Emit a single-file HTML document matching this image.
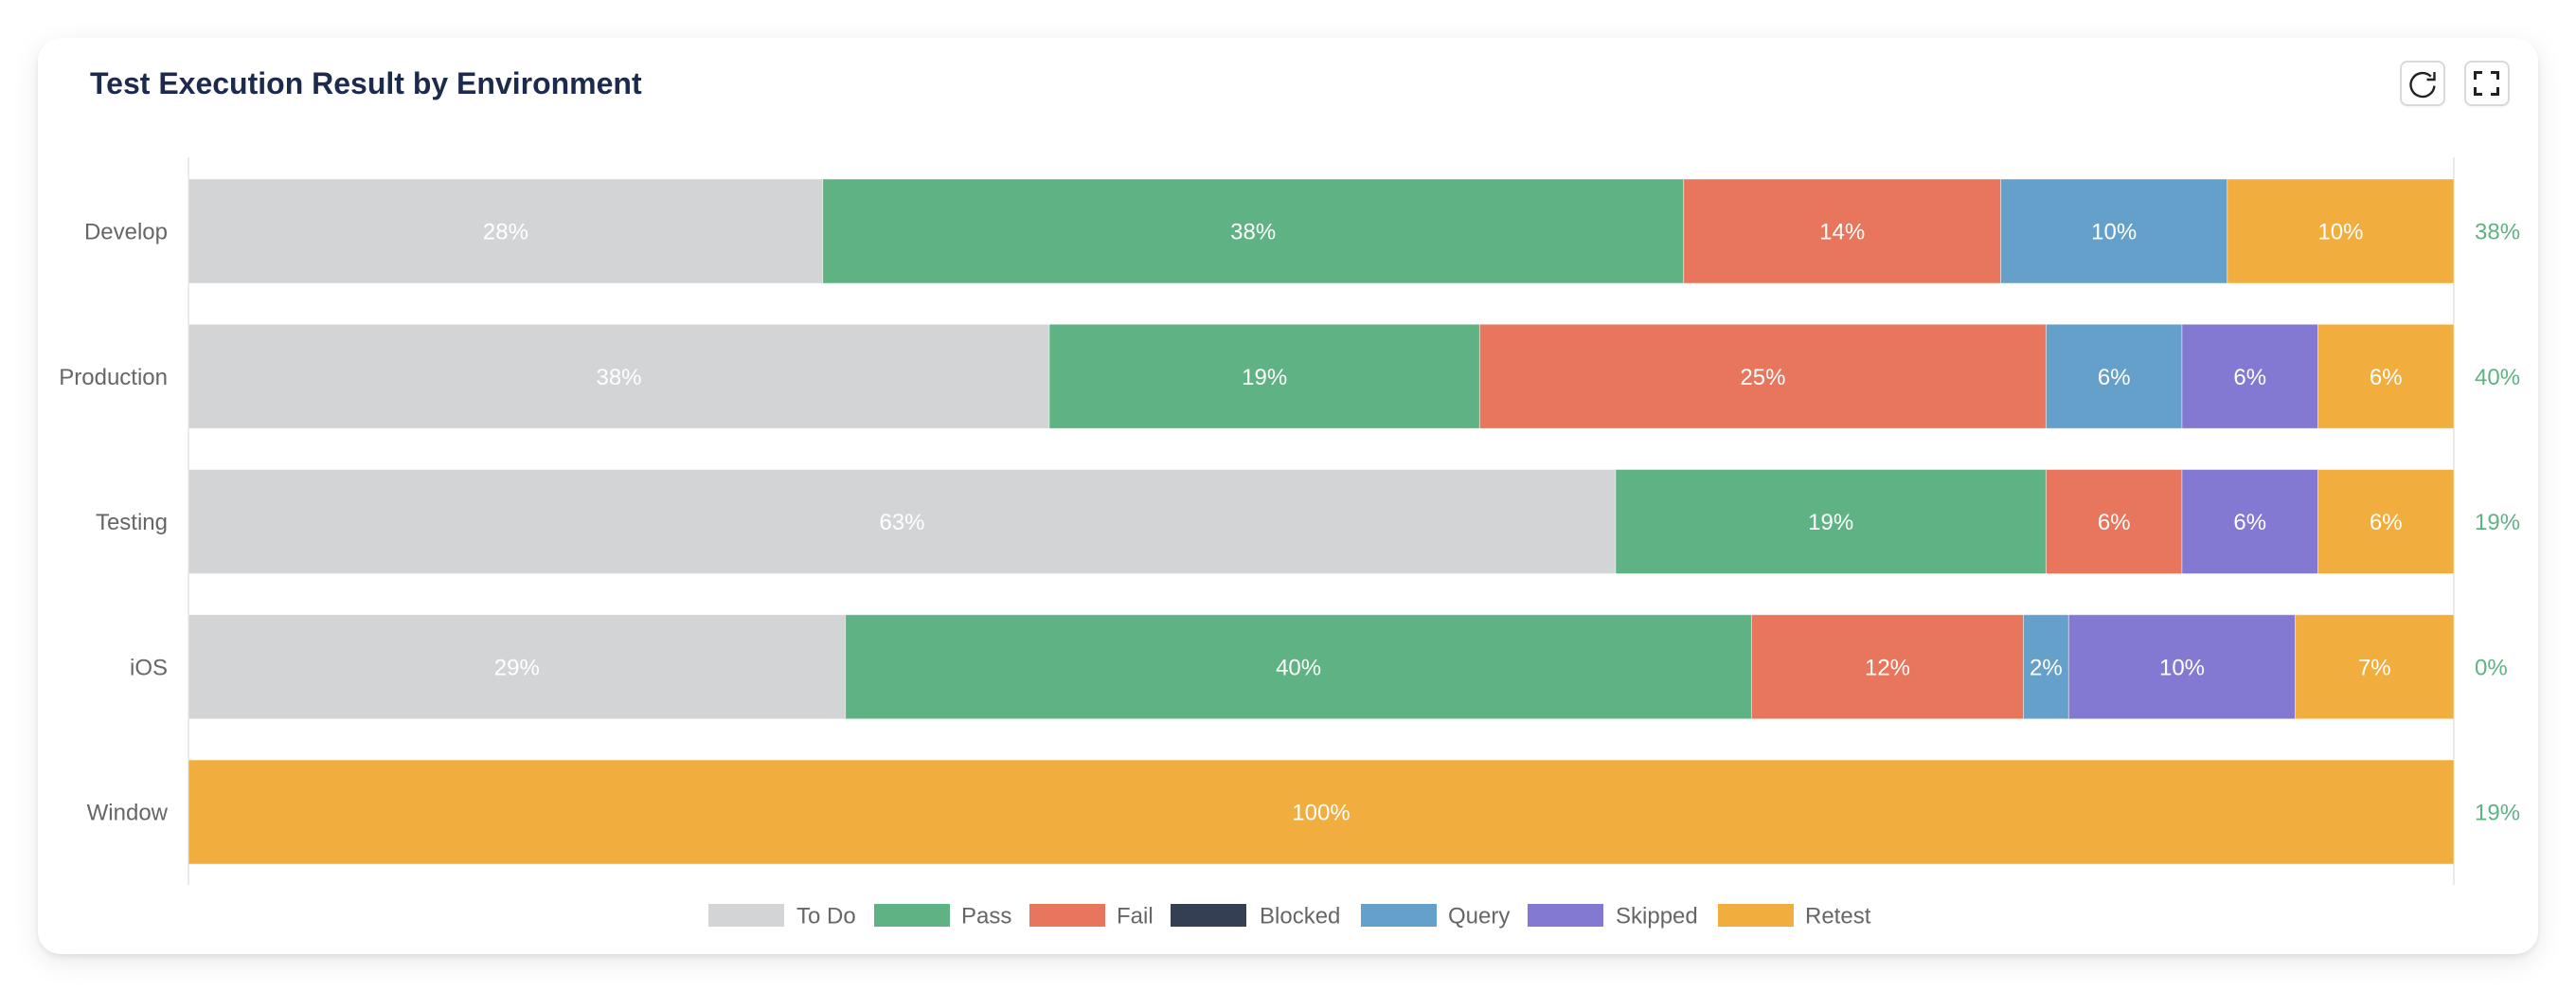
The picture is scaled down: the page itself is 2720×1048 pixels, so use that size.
<!DOCTYPE html>
<html>
<head>
<meta charset="utf-8">
<style>
  html,body{margin:0;padding:0;background:#ffffff;}
  body{width:2720px;height:1048px;position:relative;overflow:hidden;font-family:"Liberation Sans",Arial,sans-serif;}
  .card{position:absolute;left:40px;top:40px;width:2640px;height:967px;background:#fff;border-radius:24px;
        box-shadow:0 3px 6px rgba(0,0,0,0.07),0 8px 30px rgba(0,0,0,0.09);}
  svg{position:absolute;left:0;top:0;}
</style>
</head>
<body>
<div class="card"></div>
<svg width="2720" height="1048" viewBox="0 0 2720 1048" xmlns="http://www.w3.org/2000/svg" font-family="'Liberation Sans', Arial, sans-serif">
  <!-- Title -->
  <text x="95" y="99" font-size="32" font-weight="bold" fill="#1d2a4d">Test Execution Result by Environment</text>

  <!-- Buttons -->
  <rect x="2534" y="66" width="48" height="48" rx="8" fill="#f3f3f3" opacity="0.6"/>
  <rect x="2535" y="65" width="46" height="46" rx="7" fill="#fff" stroke="#d9d9d9" stroke-width="2"/>
  <path d="M2570.45 90.6 A12.5 12.5 0 1 1 2566.8 80.66" fill="none" stroke="#222" stroke-width="2.4"/>
  <path d="M2570.5 76 L2570.5 84 L2562.5 84" fill="none" stroke="#222" stroke-width="2.4"/>

  <rect x="2602" y="66" width="48" height="48" rx="8" fill="#f3f3f3" opacity="0.6"/>
  <rect x="2603" y="65" width="46" height="46" rx="7" fill="#fff" stroke="#d9d9d9" stroke-width="2"/>
  <g fill="none" stroke="#222" stroke-width="3">
    <path d="M2613.5 84 L2613.5 76.5 L2621 76.5"/>
    <path d="M2630 76.5 L2637.5 76.5 L2637.5 84"/>
    <path d="M2613.5 92 L2613.5 99.5 L2621 99.5"/>
    <path d="M2630 99.5 L2637.5 99.5 L2637.5 92"/>
  </g>

  <!-- Axis lines -->
  <line x1="199" y1="166" x2="199" y2="934" stroke="#e3e3e3" stroke-width="1.5"/>
  <line x1="2591" y1="166" x2="2591" y2="934" stroke="#e3e3e3" stroke-width="1.5"/>

  <!-- Y labels -->
  <g font-size="24" fill="#666" text-anchor="end">
    <text x="177" y="252.6">Develop</text>
    <text x="177" y="405.8">Production</text>
    <text x="177" y="559.1">Testing</text>
    <text x="177" y="712.3">iOS</text>
    <text x="177" y="865.6">Window</text>
  </g>

  <!-- Bars -->
  <g stroke="rgba(255,255,255,0.45)" stroke-width="1">
    <!-- Develop -->
    <rect x="199" y="189" width="669.76" height="110" fill="#d3d4d6"/>
    <rect x="868.76" y="189" width="908.96" height="110" fill="#5eb283"/>
    <rect x="1777.72" y="189" width="334.88" height="110" fill="#e8765c"/>
    <rect x="2112.6" y="189" width="239.2" height="110" fill="#65a0ca"/>
    <rect x="2351.8" y="189" width="239.2" height="110" fill="#f2ad3f"/>
    <!-- Production -->
    <rect x="199" y="342.25" width="908.96" height="110" fill="#d3d4d6"/>
    <rect x="1107.96" y="342.25" width="454.48" height="110" fill="#5eb283"/>
    <rect x="1562.44" y="342.25" width="598" height="110" fill="#e8765c"/>
    <rect x="2160.44" y="342.25" width="143.52" height="110" fill="#65a0ca"/>
    <rect x="2303.96" y="342.25" width="143.52" height="110" fill="#8378d2"/>
    <rect x="2447.48" y="342.25" width="143.52" height="110" fill="#f2ad3f"/>
    <!-- Testing -->
    <rect x="199" y="495.5" width="1506.96" height="110" fill="#d3d4d6"/>
    <rect x="1705.96" y="495.5" width="454.48" height="110" fill="#5eb283"/>
    <rect x="2160.44" y="495.5" width="143.52" height="110" fill="#e8765c"/>
    <rect x="2303.96" y="495.5" width="143.52" height="110" fill="#8378d2"/>
    <rect x="2447.48" y="495.5" width="143.52" height="110" fill="#f2ad3f"/>
    <!-- iOS -->
    <rect x="199" y="648.75" width="693.68" height="110" fill="#d3d4d6"/>
    <rect x="892.68" y="648.75" width="956.8" height="110" fill="#5eb283"/>
    <rect x="1849.48" y="648.75" width="287.04" height="110" fill="#e8765c"/>
    <rect x="2136.52" y="648.75" width="47.84" height="110" fill="#65a0ca"/>
    <rect x="2184.36" y="648.75" width="239.2" height="110" fill="#8378d2"/>
    <rect x="2423.56" y="648.75" width="167.44" height="110" fill="#f2ad3f"/>
    <!-- Window -->
    <rect x="199" y="802" width="2392" height="110" fill="#f2ad3f"/>
  </g>

  <!-- Bar labels -->
  <g font-size="24" fill="#ffffff" text-anchor="middle">
    <text x="533.9" y="252.6">28%</text>
    <text x="1323.2" y="252.6">38%</text>
    <text x="1945.2" y="252.6">14%</text>
    <text x="2232.2" y="252.6">10%</text>
    <text x="2471.4" y="252.6">10%</text>

    <text x="653.5" y="405.8">38%</text>
    <text x="1335.2" y="405.8">19%</text>
    <text x="1861.4" y="405.8">25%</text>
    <text x="2232.2" y="405.8">6%</text>
    <text x="2375.7" y="405.8">6%</text>
    <text x="2519.2" y="405.8">6%</text>

    <text x="952.5" y="559.1">63%</text>
    <text x="1933.2" y="559.1">19%</text>
    <text x="2232.2" y="559.1">6%</text>
    <text x="2375.7" y="559.1">6%</text>
    <text x="2519.2" y="559.1">6%</text>

    <text x="545.8" y="712.3">29%</text>
    <text x="1371.1" y="712.3">40%</text>
    <text x="1993" y="712.3">12%</text>
    <text x="2160.4" y="712.3">2%</text>
    <text x="2304" y="712.3">10%</text>
    <text x="2507.3" y="712.3">7%</text>

    <text x="1395" y="865.6">100%</text>
  </g>

  <!-- Right labels -->
  <g font-size="24" fill="#5eb283">
    <text x="2613" y="252.6">38%</text>
    <text x="2613" y="405.8">40%</text>
    <text x="2613" y="559.1">19%</text>
    <text x="2613" y="712.3">0%</text>
    <text x="2613" y="865.6">19%</text>
  </g>

  <!-- Legend -->
  <g>
    <rect x="748" y="954" width="80" height="24" fill="#d3d4d6"/>
    <rect x="923" y="954" width="80" height="24" fill="#5eb283"/>
    <rect x="1087" y="954" width="80" height="24" fill="#e8765c"/>
    <rect x="1236" y="954" width="80" height="24" fill="#343f53"/>
    <rect x="1437" y="954" width="80" height="24" fill="#65a0ca"/>
    <rect x="1613" y="954" width="80" height="24" fill="#8378d2"/>
    <rect x="1814" y="954" width="80" height="24" fill="#f2ad3f"/>
  </g>
  <g font-size="24" fill="#666">
    <text x="841" y="974.5">To Do</text>
    <text x="1015" y="974.5">Pass</text>
    <text x="1179" y="974.5">Fail</text>
    <text x="1330" y="974.5">Blocked</text>
    <text x="1529" y="974.5">Query</text>
    <text x="1706" y="974.5">Skipped</text>
    <text x="1906" y="974.5">Retest</text>
  </g>
</svg>
</body>
</html>
